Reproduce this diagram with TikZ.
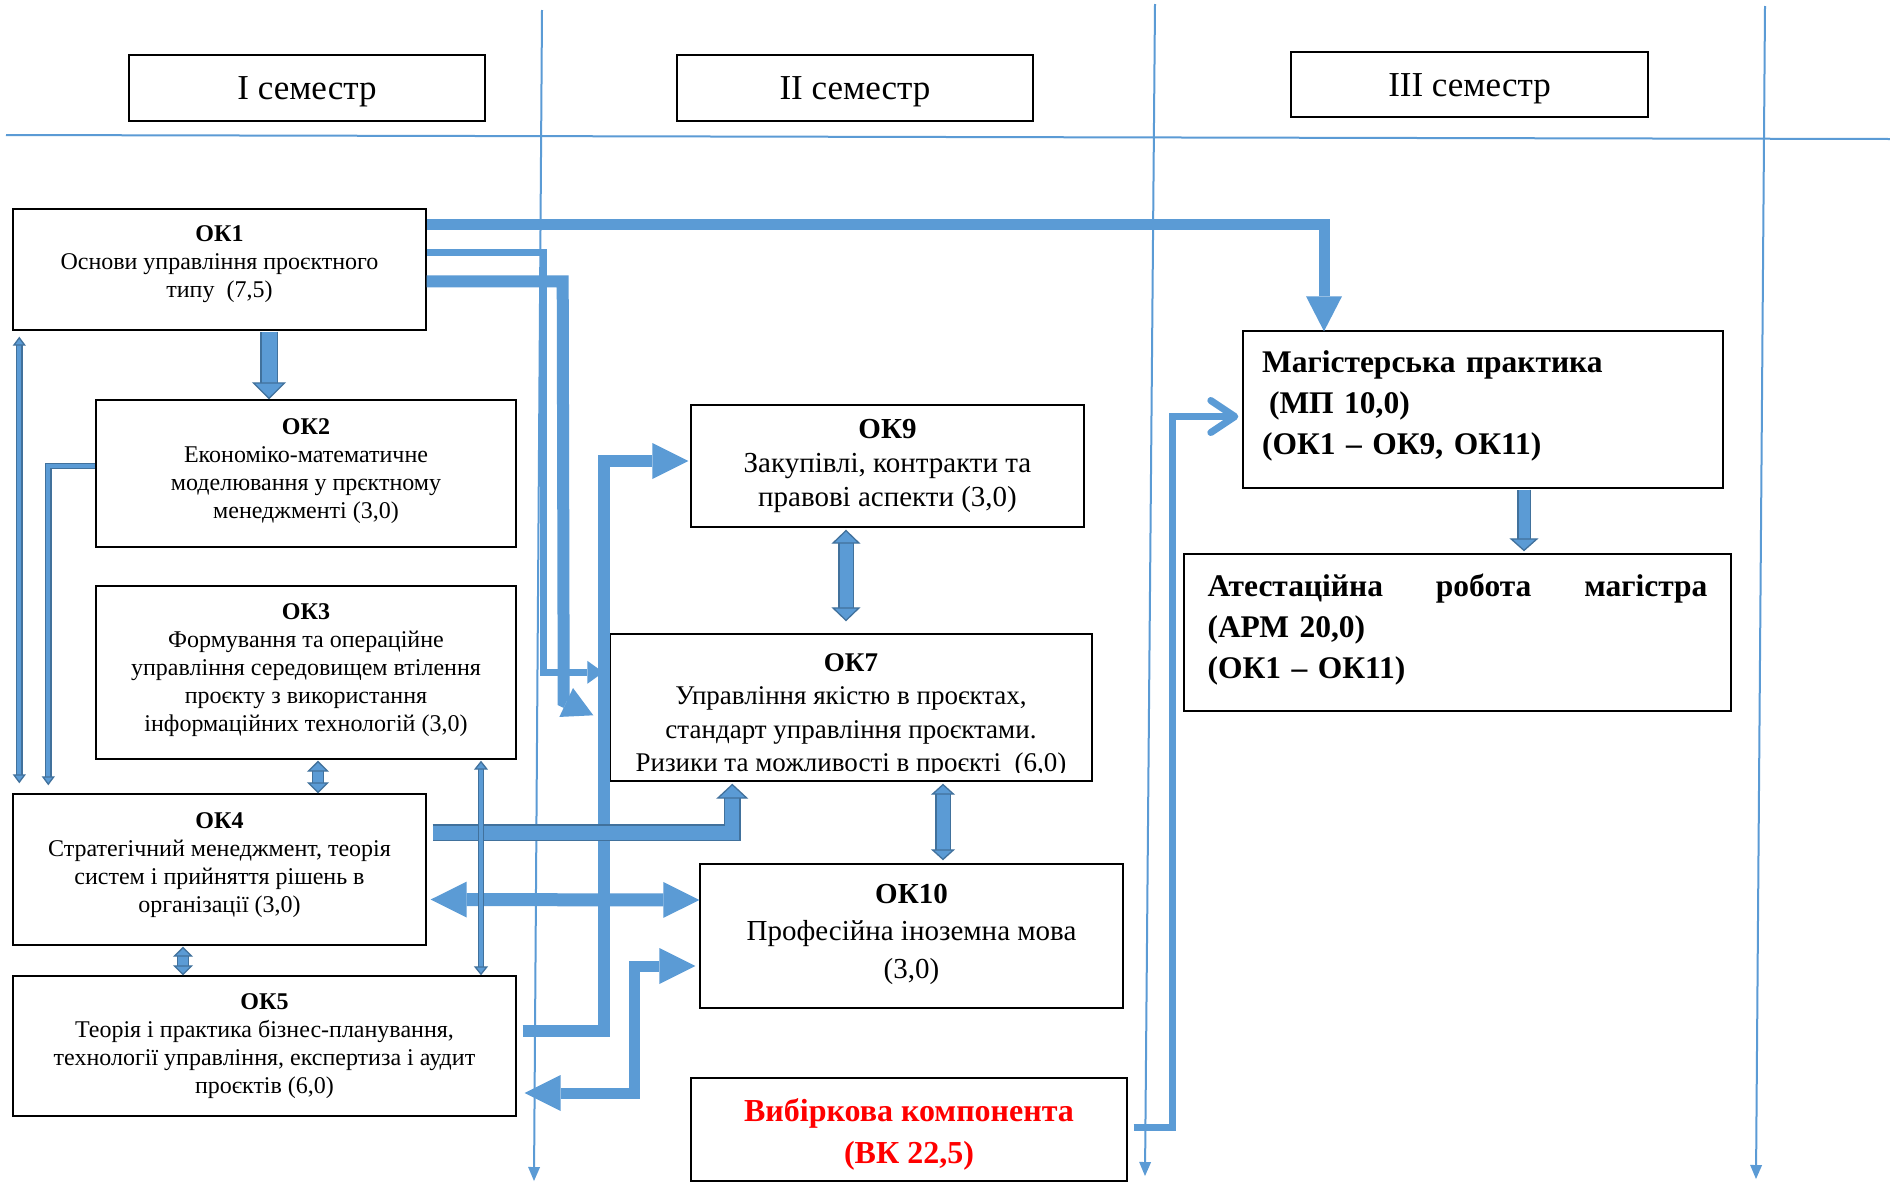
\documentclass[tikz,border=0pt]{standalone}
\usepackage{fontspec}
\setmainfont{Liberation Serif}
\usetikzlibrary{arrows.meta,calc}
\definecolor{blueL}{HTML}{5B9BD5}
\definecolor{blueD}{HTML}{41719C}
\definecolor{redT}{HTML}{FF0000}
\newcommand\myfs[2]{\fontsize{#1}{#2}\selectfont}
\newcommand\dropd[1]{\rule[-#1]{0pt}{#1}}
\newcommand\upstrut[1]{\rule{0pt}{#1}}
\tikzset{
  box/.style={draw=black, line width=1.4pt, fill=white, inner sep=0pt, align=center},
  semb/.style={box, line width=2pt, minimum width=356pt, minimum height=66pt, font={\myfs{35}{40}}},
  sbox/.style={box, font={\myfs{24}{28}}},
  mbox/.style={box, font={\myfs{29}{33}}},
  parr/.style n args={3}{draw=blueL, line width=#1, line join=miter,
    -{Triangle[length=#3, width=#2, line width=0pt, color=blueL]}},
  parrd/.style n args={3}{draw=blueL, line width=#1, line join=miter,
    {Triangle[length=#3, width=#2, line width=0pt, color=blueL]}-{Triangle[length=#3, width=#2, line width=0pt, color=blueL]}},
  blk/.style n args={3}{draw=blueL, line width=#1, line join=miter,
    -{Triangle[length=#3, width=#2, line width=1.3pt, color=blueD, fill=blueL]},
    preaction={draw=blueD, line width=#1+2.6pt, -, shorten >=#3-1pt}},
  blkd/.style n args={3}{draw=blueL, line width=#1, line join=miter,
    {Triangle[length=#3, width=#2, line width=1.3pt, color=blueD, fill=blueL]}-{Triangle[length=#3, width=#2, line width=1.3pt, color=blueD, fill=blueL]},
    preaction={draw=blueD, line width=#1+2.6pt, -, shorten >=#3-1pt, shorten <=#3-1pt}},
  colline/.style={draw=blueL, line width=2pt, -{Triangle[length=14pt, width=12pt, line width=0pt]}},
  sepline/.style={draw=blueL, line width=2pt},
  chev/.style={draw=blueL, line width=7pt, line join=miter, -{Straight Barb[length=24pt, width=32pt, round]}},
}
\begin{document}
\begin{tikzpicture}[x=1pt,y=-1pt]
\fill[white] (0,0) rectangle (1890,1184);
\useasboundingbox (0,0) rectangle (1890,1184);

% column separators
\coordinate (c1t) at (542,10);  \coordinate (c1b) at (534,1181);
\coordinate (c2t) at (1155,4);  \coordinate (c2b) at (1145,1176);
\coordinate (c3t) at (1765,6);  \coordinate (c3b) at (1756,1179);
\coordinate (hl) at (6,135);    \coordinate (hr) at (1890,139);
\draw[sepline] (hl) -- (hr);
\draw[colline] (c1t) -- (c1b);
\draw[colline] (c2t) -- (c2b);
\draw[colline] (c3t) -- (c3b);

% semester headers
\node[semb] (s1) at (307,88) {\upstrut{31pt}I семестр};
\node[semb] (s2) at (855,88) {\upstrut{31pt}II семестр};
\node[semb, minimum width=357pt, minimum height=65pt] (s3) at (1469.5,84.5) {\upstrut{31pt}III семестр};

% boxes
\node[sbox, minimum width=413pt, minimum height=121pt] (ok1) at (219.5,269.5)
  {\textbf{ОК1}\\Основи управління проєктного\\типу\ \ (7,5)\dropd{16pt}};
\node[sbox, minimum width=420pt, minimum height=147pt] (ok2) at (306,473.5)
  {\textbf{ОК2}\\Економіко-математичне\\моделювання у прєктному\\менеджменті (3,0)\dropd{10pt}};
\node[sbox, minimum width=420pt, minimum height=173pt] (ok3) at (306,672.5)
  {\textbf{ОК3}\\Формування та операційне\\управління середовищем втілення\\проєкту з використання\\інформаційних технологій (3,0)\dropd{10pt}};
\node[sbox, minimum width=413pt, minimum height=151pt] (ok4) at (219.5,869.5)
  {\textbf{ОК4}\\Стратегічний менеджмент, теорія\\систем і прийняття рішень в\\організації (3,0)\dropd{14pt}};
\node[sbox, minimum width=503pt, minimum height=140pt] (ok5) at (264.5,1046)
  {\textbf{ОК5}\\Теорія і практика бізнес-планування,\\технології управління, експертиза і аудит\\проєктів (6,0)};
\node[mbox, minimum width=393pt, minimum height=122pt, font={\myfs{29}{34}}] (ok9) at (887.5,466)
  {\textbf{ОК9}\\Закупівлі, контракти та\\правові аспекти (3,0)};
\node[mbox, minimum width=482pt, minimum height=147pt] (ok7) at (851,707.5) {};
\begin{scope}
  \clip ($(ok7.north west)+(1,1)$) rectangle ($(ok7.south east)+(-1,-9)$);
  \node[font={\myfs{27}{33.5}}, align=center, inner sep=0pt, anchor=north] (ok7t) at ($(ok7.north)+(0,20)$)
    {\textbf{ОК7}\\Управління якістю в проєктах,\\стандарт управління проєктами.\\Ризики та можливості в проєкті\ \ (6,0)};
\end{scope}
\node[mbox, minimum width=423pt, minimum height=144pt, font={\myfs{29}{37.5}}] (ok10) at (911.5,936)
  {\textbf{ОК10}\\Професійна іноземна мова\\(3,0)\dropd{10pt}};
\node[box, minimum width=436pt, minimum height=103pt, font={\myfs{32}{42}\bfseries}, text=redT] (vk) at (909,1129.5)
  {\upstrut{32pt}Вибіркова компонента\\(ВК 22,5)};
\node[box, minimum width=480pt, minimum height=157pt, text width=442pt, align=left, font={\myfs{31.5}{41}\bfseries}] (mp) at (1483,409.5)
  {Магістерська практика\\\hspace*{7pt}(МП 10,0)\\(ОК1 – ОК9, ОК11)\dropd{14pt}};
\node[box, minimum width=547pt, minimum height=157pt, text width=500pt, align=left, font={\myfs{31.5}{41}\bfseries}] (atm) at (1457.5,632.5)
  {Атестаційна\hfill робота\hfill магістра\\(АРМ 20,0)\\(ОК1 – ОК11)\dropd{13pt}};

% plain (unoutlined) arrows
\draw[parr={11pt}{36pt}{35pt}] ($(ok1.north east)+(0,16)$) -| ($(mp.north)+(-159,1)$);
\draw[parr={7pt}{23pt}{16pt}] ($(ok1.north east)+(0,44)$) -- ++(117,0) |- ($(ok7.north west)+(-6,39)$);
\draw[parr={12pt}{32pt}{30pt}] ($(ok1.north east)+(0,73)$) -- ++(136,0) -- ++(1,420) -- ($(ok7.north west)+(-16,82)$);
\draw[parr={12pt}{36pt}{36pt}] ($(ok5.east)+(6,-15)$) -| ($(ok9.west)+(-86,-5)$) -- ($(ok9.west)+(-2,-5)$);
\draw[parrd={13pt}{36pt}{36pt}] ($(ok4.east)+(4,30)$) -- ($(ok10.west)+(0,-36)$);
\draw[parrd={11pt}{36pt}{36pt}] ($(ok5.east)+(8,47)$) -| ($(ok10.west)+(-65,30)$) -- ($(ok10.west)+(-4,30)$);
\draw[chev] ($(vk.east)+(6,-2)$) -| ($(mp.west)+(-70,7)$) -- ($(mp.west)+(-4,7)$);

% outlined block arrows
\draw[blk={14pt}{32pt}{15pt}] ($(ok4.east)+(6,-37)$) -| ($(ok7.south west)+(123,2)$);
\draw[blk={15pt}{34pt}{17pt}] ($(ok1.south)+(49.5,1)$) -- ($(ok2.north)+(-37,0)$);
\draw[blkd={10pt}{22pt}{11pt}] ($(ok3.south)+(12,1)$) -- ($(ok4.north)+(98.5,0)$);
\draw[blkd={10pt}{20pt}{10pt}] ($(ok4.south)+(-36.5,1)$) -- ($(ok5.north)+(-81.5,0)$);
\draw[blkd={13pt}{29pt}{14pt}] ($(ok9.south)+(-41.5,2)$) -- ($(ok7.north)+(-5,-12)$);
\draw[blkd={13pt}{24pt}{11pt}] ($(ok7.south)+(92,2)$) -- ($(ok10.north)+(31.5,-3)$);
\draw[blk={11pt}{29pt}{13pt}] ($(mp.south)+(41,1)$) -- ($(atm.north)+(66.5,-2)$);
\draw[blkd={4pt}{14pt}{9pt}] ($(ok3.south)+(175,1)$) -- ($(ok5.north)+(216.5,0)$);
\draw[blkd={4pt}{13pt}{9pt}] ($(ok1.south west)+(7,6)$) -- ($(ok4.north west)+(7,-10)$);
\draw[blk={4pt}{13pt}{9pt}] ($(ok2.west)+(0,-7.5)$) -| ($(ok4.north west)+(36,-8)$);
\end{tikzpicture}
\end{document}
